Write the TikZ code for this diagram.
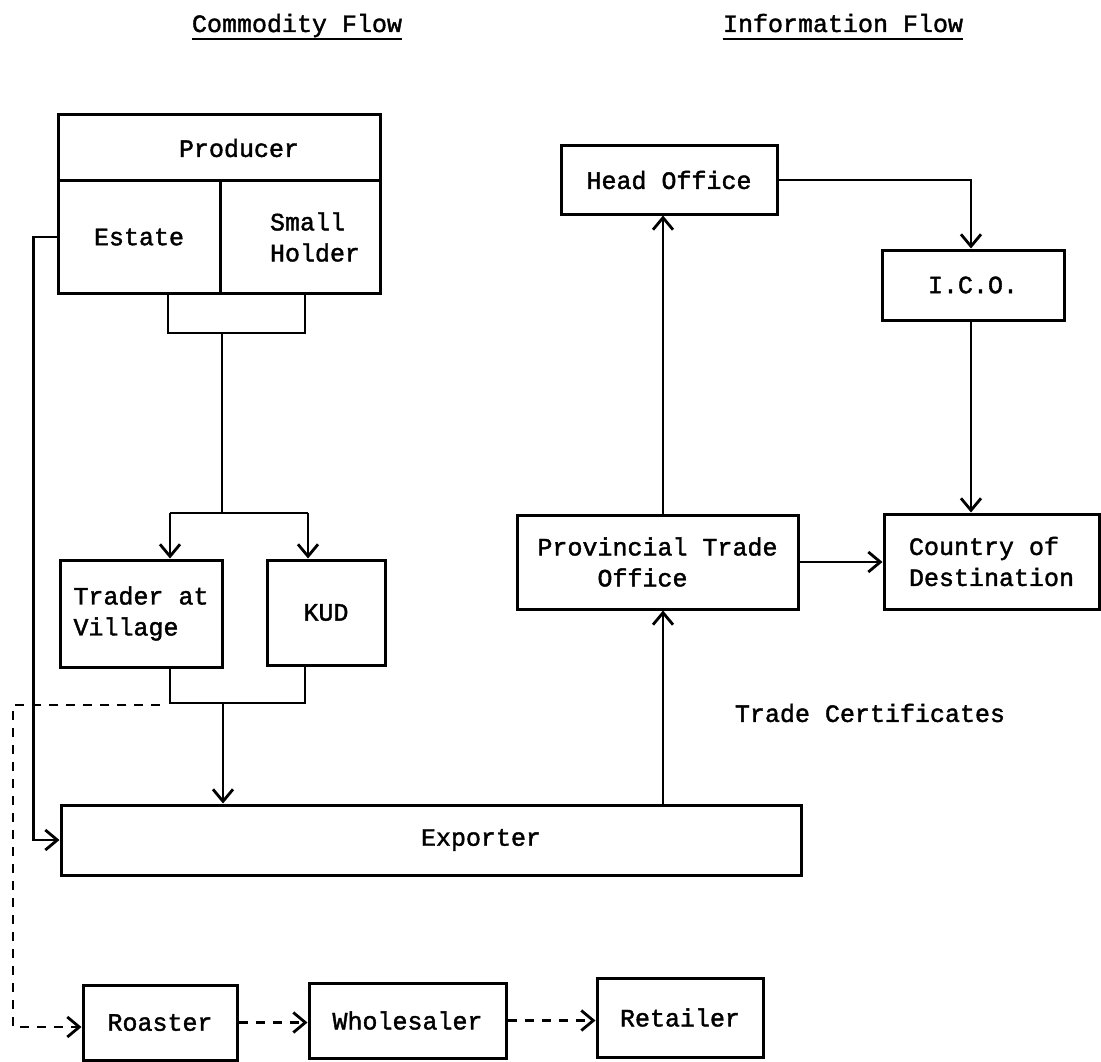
\documentclass[tikz,border=0pt]{standalone}
\usepackage{fontspec}
\setmainfont[FakeBold=1.6,AutoFakeBold=1.6]{Liberation Mono}
\usetikzlibrary{arrows.meta}

\newcommand{\typefont}{\fontsize{25}{31}\selectfont\bfseries}

\tikzset{
  box/.style={draw, line width=3pt, rectangle, inner sep=0pt, font=\typefont},
  flow/.style={line width=2.8pt},
  tip/.style={-{Straight Barb[length=12pt,width=20pt]}},
  dashflow/.style={line width=2.8pt, dash pattern=on 9pt off 8pt},
  caption/.style={inner sep=0pt, font=\typefont},
  rule/.style={line width=2.4pt},
}

\begin{document}
\begin{tikzpicture}[x=1pt, y=-1pt]
\useasboundingbox (0,0) rectangle (1101,1062);

% headings, underlined below the baseline
\node[caption, anchor=base] (commodity) at (297,32) {Commodity Flow};
\node[caption, anchor=base] (information) at (843,32) {Information Flow};
\coordinate (cu) at ([yshift=-7pt]commodity.base west);
\coordinate (iu) at ([yshift=-7pt]information.base west);
\draw[rule] (cu) -- (cu -| commodity.base east);
\draw[rule] (iu) -- (iu -| information.base east);

% commodity side
\node[box, minimum width=322pt, minimum height=66pt] (producer) at (219,148) {\hspace*{40pt}Producer};
\node[box, minimum width=162pt, minimum height=112pt] (estate) at (139,237) {Estate};
\node[box, minimum width=160pt, minimum height=112pt, align=left] (small) at (300,237)
  {\hspace*{30pt}Small\\\hspace*{30pt}Holder};
\node[box, minimum width=162pt, minimum height=107pt, align=left] (trader) at (141,613.5) {Trader at\\Village};
\node[box, minimum width=118pt, minimum height=105pt] (kud) at (326,612.5) {KUD};
\node[box, minimum width=740pt, minimum height=70pt] (exporter) at (431,840) {\hspace*{100pt}Exporter};
\node[box, minimum width=154pt, minimum height=75pt] (roaster) at (160,1022.5) {Roaster};
\node[box, minimum width=197pt, minimum height=75pt] (wholesaler) at (407.5,1020.5) {Wholesaler};
\node[box, minimum width=166pt, minimum height=79pt] (retailer) at (680,1017.5) {Retailer};

% information side
\node[box, minimum width=216pt, minimum height=68pt] (head) at (669,180) {Head Office};
\node[box, minimum width=182pt, minimum height=70pt] (ico) at (973,285) {I.C.O.};
\node[box, minimum width=281pt, minimum height=94pt, align=left] (pto) at (657.5,562)
  {Provincial Trade\\\hspace*{60pt}Office};
\node[box, minimum width=215pt, minimum height=95pt, align=left] (country) at (991.5,561.5)
  {Country of\\Destination};
\node[caption] (certificates) at (870,713) {Trade Certificates};

% routing points
\coordinate (pl) at (168,333);
\coordinate (pr) at (305,333);
\coordinate (pm) at (222,333);
\coordinate (sl) at (170,513);
\coordinate (sr) at (308,513);
\coordinate (sm) at (222,513);
\coordinate (ml) at (170,703);
\coordinate (mr) at (305,703);
\coordinate (mm) at (223,703);
\coordinate (dstart) at (160,705);
\coordinate (dtop) at (13,705);
\coordinate (dbottom) at (13,1027);
\coordinate (infoX) at (663,0);
\coordinate (icoX) at (971,0);

% producer to traders
\draw[flow] (estate.south -| pl) -- (pl) -- (pr) -- (small.south -| pr);
\draw[flow] (pm) -- (sm);
\draw[flow] (sl) -- (sr);
\draw[flow, tip] (sl) -- (trader.north -| sl);
\draw[flow, tip] (sr) -- (kud.north -| sr);

% traders to exporter
\draw[flow] (trader.south -| ml) -- (ml) -- (mr) -- (kud.south -| mr);
\draw[flow, tip] (mm) -- (exporter.north -| mm);

% estate direct to exporter
\draw[flow, tip] (estate.west) -- ++(-23,0) |- (exporter.west);

% domestic chain
\draw[dashflow, tip] (dstart) -- (dtop) -- (dbottom) -- (dbottom -| roaster.west);
\draw[dashflow, tip] (roaster.east) -- (roaster.east -| wholesaler.west);
\draw[dashflow, tip] (wholesaler.east) -- (wholesaler.east -| retailer.west);

% information flow
\draw[flow, tip] (exporter.north -| infoX) -- (pto.south -| infoX);
\draw[flow, tip] (pto.north -| infoX) -- (head.south -| infoX);
\draw[flow, tip] (head.east) -| (ico.north -| icoX);
\draw[flow, tip] (ico.south -| icoX) -- (country.north -| icoX);
\draw[flow, tip] (pto.east) -- (pto.east -| country.west);
\end{tikzpicture}
\end{document}
